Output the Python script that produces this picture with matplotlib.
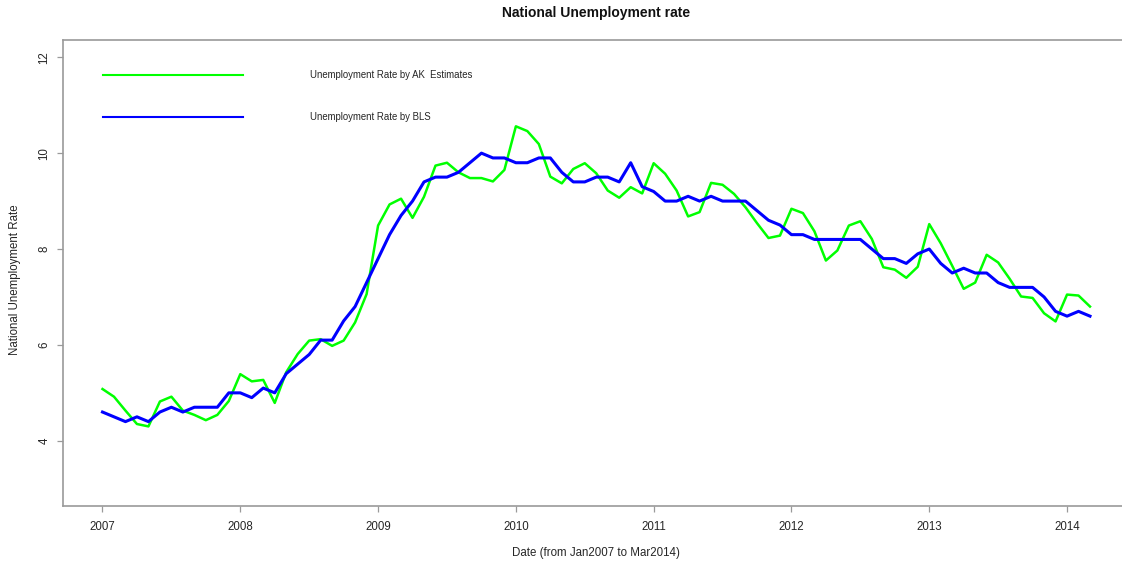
import matplotlib
matplotlib.use("Agg")
import matplotlib.pyplot as plt
from matplotlib.lines import Line2D
import numpy as np

plt.rcParams['font.family'] = ['Liberation Sans', 'DejaVu Sans']

# Monthly series, Jan 2007 .. Mar 2014
start_year = 2007
n_months = 87

ak_estimates = [
    5.08, 4.92, 4.63, 4.35, 4.30, 4.82, 4.92, 4.63, 4.54, 4.43, 4.54, 4.83,
    5.39, 5.24, 5.27, 4.79, 5.43, 5.81, 6.09, 6.12, 5.98, 6.09, 6.47, 7.06,
    8.49, 8.93, 9.05, 8.65, 9.09, 9.74, 9.80, 9.60, 9.48, 9.48, 9.41, 9.65,
    10.56, 10.46, 10.19, 9.51, 9.37, 9.67, 9.79, 9.58, 9.22, 9.07, 9.29, 9.16,
    9.79, 9.57, 9.22, 8.68, 8.77, 9.38, 9.34, 9.15, 8.87, 8.54, 8.23, 8.28,
    8.84, 8.75, 8.37, 7.76, 7.97, 8.49, 8.58, 8.21, 7.62, 7.57, 7.40, 7.63,
    8.52, 8.12, 7.65, 7.17, 7.30, 7.88, 7.72, 7.38, 7.01, 6.98, 6.66, 6.49,
    7.05, 7.03, 6.80,
]

bls_rate = [
    4.6, 4.5, 4.4, 4.5, 4.4, 4.6, 4.7, 4.6, 4.7, 4.7, 4.7, 5.0,
    5.0, 4.9, 5.1, 5.0, 5.4, 5.6, 5.8, 6.1, 6.1, 6.5, 6.8, 7.3,
    7.8, 8.3, 8.7, 9.0, 9.4, 9.5, 9.5, 9.6, 9.8, 10.0, 9.9, 9.9,
    9.8, 9.8, 9.9, 9.9, 9.6, 9.4, 9.4, 9.5, 9.5, 9.4, 9.8, 9.3,
    9.2, 9.0, 9.0, 9.1, 9.0, 9.1, 9.0, 9.0, 9.0, 8.8, 8.6, 8.5,
    8.3, 8.3, 8.2, 8.2, 8.2, 8.2, 8.2, 8.0, 7.8, 7.8, 7.7, 7.9,
    8.0, 7.7, 7.5, 7.6, 7.5, 7.5, 7.3, 7.2, 7.2, 7.2, 7.0, 6.7,
    6.6, 6.7, 6.6,
]

year_ticks = [2007, 2008, 2009, 2010, 2011, 2012, 2013, 2014]
rate_ticks = [4, 6, 8, 10, 12]

labels = ["Unemployment Rate by AK  Estimates", "Unemployment Rate by BLS"]
title = "National Unemployment rate"
xlabel = "Date (from Jan2007 to Mar2014)"
ylabel = "National Unemployment Rate"

dates = start_year + np.arange(n_months) / 12.0

W, H = 1122, 563
fig = plt.figure(figsize=(W / 100, H / 100), dpi=100)

# plot region (pixel box), extending past the right edge of the canvas
left_px, top_px, bottom_px, right_px = 63, 40, 506, 1129.5
ax = fig.add_axes([left_px / W, 1 - bottom_px / H,
                   (right_px - left_px) / W, (bottom_px - top_px) / H])

axis_grey = "#9a9a9a"
text_col = "#262626"

ax.plot(dates, ak_estimates, color="#00ff00", lw=1.8,
        solid_joinstyle="round", zorder=3)
ax.plot(dates, bls_rate, color="#0000ff", lw=2.2,
        solid_joinstyle="round", zorder=4)

span = dates[-1] - dates[0]
ax.set_xlim(dates[0] - 0.04 * span, dates[-1] + 0.04 * span)
ax.set_ylim(3 - 0.04 * 9, 12 + 0.04 * 9)

ax.set_xticks(year_ticks)
ax.set_xticklabels([str(y) for y in year_ticks])
ax.set_yticks(rate_ticks)
ax.set_yticklabels([str(v) for v in rate_ticks], rotation=90, va="center")

for s in ["left", "bottom", "top"]:
    ax.spines[s].set_color(axis_grey)
    ax.spines[s].set_linewidth(1.2)
ax.spines["right"].set_visible(False)

ax.tick_params(axis="both", direction="out", length=4.5, width=0.9,
               color=axis_grey, labelcolor=text_col, labelsize=8.3)
ax.tick_params(axis="x", pad=6.5)
ax.tick_params(axis="y", pad=4.5)

# legend without a frame
handles = [Line2D([], [], color="#00ff00", lw=1.5),
           Line2D([], [], color="#0000ff", lw=1.5)]
leg = ax.legend(handles, labels, loc="upper left",
                bbox_to_anchor=((103 - left_px) / (right_px - left_px),
                                1 - (70.5 - top_px) / (bottom_px - top_px)),
                frameon=False, fontsize=6.9, handlelength=14.6,
                handletextpad=7.0, labelspacing=3.3, borderpad=0,
                borderaxespad=0)
for t in leg.get_texts():
    t.set_color(text_col)

fig.text(596.5 / W, 1 - 13 / H, title, ha="center", va="center",
         fontsize=10, fontweight="bold", color="#111111")
fig.text(596 / W, 1 - 553 / H, xlabel, ha="center", va="center",
         fontsize=8.3, color=text_col)
fig.text(15 / W, 1 - 280 / H, ylabel, ha="center", va="center",
         rotation=90, fontsize=8.3, color=text_col)

fig.savefig("out.png", dpi=100)
